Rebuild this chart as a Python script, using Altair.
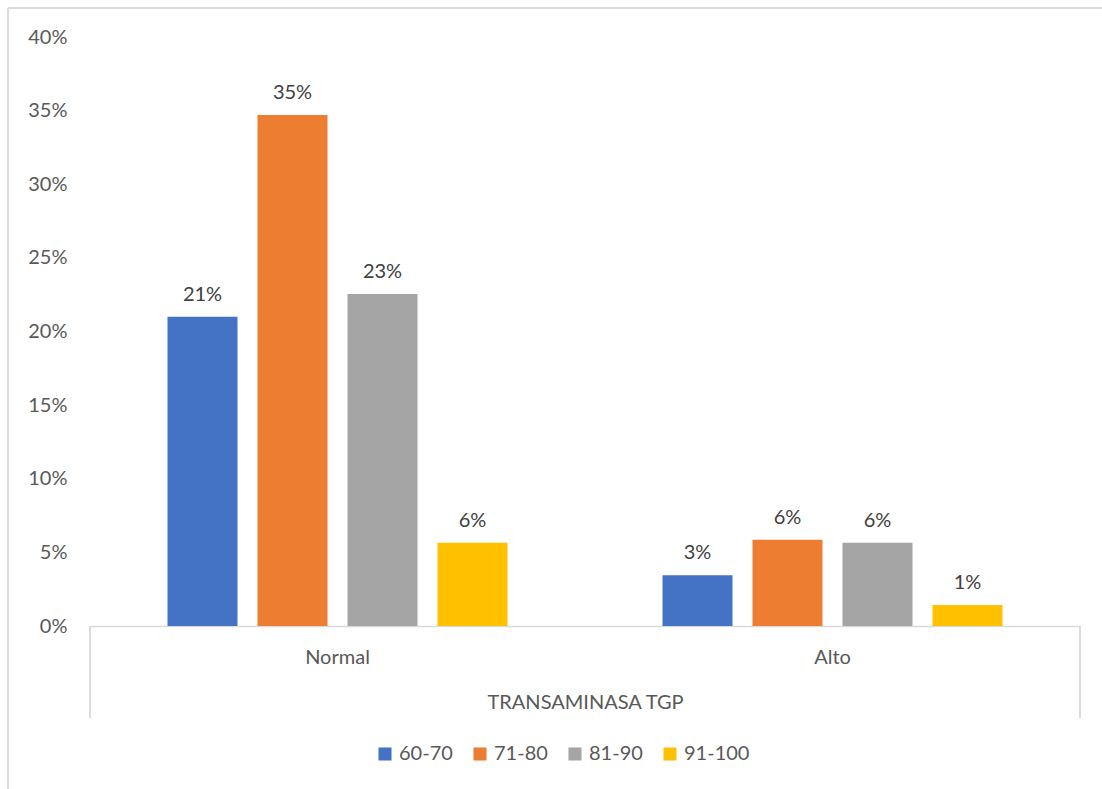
import altair as alt
import pandas as pd

categories = ["Normal", "Alto"]
series = ["60-70", "71-80", "81-90", "91-100"]
normal_vals = [0.21, 0.347, 0.2255, 0.0565]
alto_vals = [0.0345, 0.0585, 0.0565, 0.0143]
colors = ["#4472C4", "#ED7D31", "#A5A5A5", "#FFC000"]
y_ticks = [0, 0.05, 0.10, 0.15, 0.20, 0.25, 0.30, 0.35, 0.40]
x_title = "TRANSAMINASA TGP"

rows = []
for cat, vals in zip(categories, [normal_vals, alto_vals]):
    for s, v in zip(series, vals):
        rows.append({"cat": cat, "serie": s, "val": v})
df = pd.DataFrame(rows)

FONT = "Lato"
FS = 20
W, H = 990, 589

x = alt.X("cat:N", sort=categories, title=x_title,
          scale=alt.Scale(paddingInner=0, paddingOuter=0),
          axis=alt.Axis(labelAngle=0, ticks=False, domainColor="#d9d9d9", domainWidth=1.5,
                        labelFontSize=FS, labelColor="#595959", labelFont=FONT, labelPadding=21,
                        titleFontSize=FS, titleColor="#595959", titleFont=FONT,
                        titleFontWeight="normal", titlePadding=25))
xoff = alt.XOffset("serie:N", sort=series,
                   scale=alt.Scale(paddingInner=2/9, paddingOuter=0.8611))
y = alt.Y("val:Q", scale=alt.Scale(domain=[0, 0.4], nice=False),
          axis=alt.Axis(values=y_ticks, format=".0%", grid=False, domain=False, ticks=False,
                        labelFontSize=FS, labelColor="#595959", labelFont=FONT, labelPadding=23),
          title=None)
color = alt.Color("serie:N", sort=series, scale=alt.Scale(domain=series, range=colors),
                  legend=alt.Legend(title=None, orient="none", direction="horizontal",
                                    legendX=285, legendY=707, symbolType="square",
                                    symbolSize=170, symbolStrokeWidth=0, labelFontSize=FS,
                                    labelColor="#595959", labelFont=FONT, columnPadding=17,
                                    labelOffset=4))

base = alt.Chart(df)
bars = base.mark_bar().encode(x=x, xOffset=xoff, y=y, color=color)
labels = base.mark_text(baseline="bottom", dy=-12, fontSize=FS, font=FONT, color="#404040").encode(
    x=alt.X("cat:N", sort=categories), xOffset=alt.XOffset("serie:N", sort=series),
    y="val:Q", text=alt.Text("val:Q", format=".0%"))

seps = pd.DataFrame({"p": [0, 1]})
sep_left = alt.Chart(seps).mark_rule(color="#d9d9d9", strokeWidth=1.5).encode(
    x=alt.value(0), y=alt.value(H), y2=alt.value(H + 92))
sep_right = alt.Chart(seps).mark_rule(color="#d9d9d9", strokeWidth=1.5).encode(
    x=alt.value(W), y=alt.value(H), y2=alt.value(H + 92))
border_top = alt.Chart(seps).mark_rule(color="#d9d9d9", strokeWidth=1.5).encode(
    x=alt.value(-82), x2=alt.value(1030), y=alt.value(-29))
border_left = alt.Chart(seps).mark_rule(color="#d9d9d9", strokeWidth=1.5).encode(
    x=alt.value(-82), y=alt.value(-29), y2=alt.value(770))

chart = alt.layer(bars, labels, sep_left, sep_right, border_top, border_left).properties(
    width=W, height=H,
    padding={"left": 90, "top": 37, "right": 22, "bottom": 163},
    autosize=alt.AutoSizeParams(type="none"),
    background="white",
).configure_view(stroke=None)

chart.save("out.html", embed_options={"renderer": "svg", "actions": False})
